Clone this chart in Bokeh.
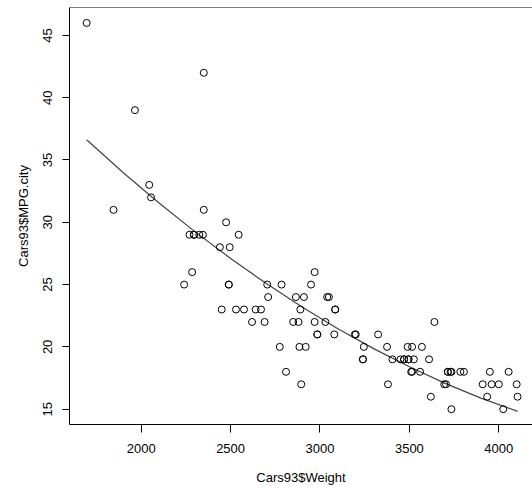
from bokeh.plotting import figure
from bokeh.models import FixedTicker, Span, Range1d
from bokeh.embed import file_html
from bokeh.resources import INLINE

# Cars93: Weight vs MPG.city
weight = [2705, 3560, 3375, 3405, 3640, 2880, 3470, 4105, 3495, 3620,
          3935, 2490, 2785, 3240, 3195, 3715, 4025, 3910, 3380, 3515,
          3085, 3570, 2270, 2670, 2970, 3705, 3080, 3805, 2295, 3490,
          1845, 2530, 2690, 2850, 2710, 3735, 3325, 3950, 1695, 2475,
          2865, 2350, 3040, 2345, 2620, 2285, 2885, 4000, 3510, 3515,
          3695, 4055, 2325, 2440, 2970, 3735, 2895, 2920, 3525, 2450,
          3610, 2295, 3730, 2545, 3050, 4100, 3200, 2910, 2890, 3715,
          3470, 2640, 2350, 2575, 3240, 3450, 3495, 2775, 2495, 2045,
          2490, 3085, 1965, 2055, 2950, 3030, 3785, 2240, 3960, 2985,
          2810, 2985, 3245]
mpg_city = [25, 18, 20, 19, 22, 22, 19, 16, 19, 16,
            16, 25, 25, 19, 21, 18, 15, 17, 17, 20,
            23, 20, 29, 23, 22, 17, 21, 18, 29, 20,
            31, 23, 22, 22, 24, 15, 21, 18, 46, 30,
            24, 42, 24, 29, 22, 26, 20, 17, 18, 18,
            17, 18, 29, 28, 26, 18, 17, 20, 19, 23,
            19, 29, 18, 29, 24, 17, 21, 24, 23, 18,
            19, 23, 31, 23, 19, 19, 19, 20, 28, 33,
            25, 23, 39, 32, 25, 22, 18, 25, 17, 21,
            18, 21, 20]

# fitted curve
curve_weight = [1695, 1900, 2100, 2300, 2500, 2700, 2900, 3100, 3300, 3500, 3700, 3900, 4105]
curve_mpg = [36.62, 33.98, 31.55, 29.25, 27.10, 25.08, 23.20, 21.46, 19.86, 18.40, 17.07, 15.89, 14.82]

x_ticks = [2000, 2500, 3000, 3500, 4000]
y_ticks = [15, 20, 25, 30, 35, 40, 45]
x_title = "Cars93$Weight"
y_title = "Cars93$MPG.city"

FONT = "Liberation Sans"
Y_END = 47.24

p = figure(width=532, height=488, output_backend="svg", toolbar_location=None,
           x_range=Range1d(1599, 4188.5), y_range=Range1d(13.77, Y_END),
           min_border_left=69, min_border_right=0, min_border_top=7, min_border_bottom=64)

p.outline_line_color = None
p.xgrid.visible = False
p.ygrid.visible = False
p.background_fill_color = "white"
p.border_fill_color = "white"

p.add_layout(Span(location=Y_END, dimension="width", line_color="black", line_width=1))

p.line(curve_weight, curve_mpg, line_color="#444444", line_width=1.2)
p.scatter(weight, mpg_city, marker="circle", size=7, fill_color=None,
          line_color="black", line_width=1)

for ax in (p.xaxis[0], p.yaxis[0]):
    ax.minor_tick_line_color = None
    ax.major_tick_in = 0
    ax.axis_line_color = "black"
    ax.major_tick_line_color = "black"
    ax.major_label_text_font = FONT
    ax.major_label_text_font_size = "13px"
    ax.major_label_text_color = "black"
    ax.axis_label_text_font = FONT
    ax.axis_label_text_font_size = "13px"
    ax.axis_label_text_font_style = "normal"
    ax.axis_label_text_color = "black"

p.xaxis.ticker = FixedTicker(ticks=x_ticks)
p.xaxis.major_tick_out = 8
p.xaxis.major_label_standoff = 11
p.xaxis.axis_label = x_title
p.xaxis.axis_label_standoff = 14

p.yaxis.ticker = FixedTicker(ticks=y_ticks)
p.yaxis.major_tick_out = 7
p.yaxis.major_label_standoff = 10
p.yaxis.major_label_orientation = "vertical"
p.yaxis.axis_label = y_title
p.yaxis.axis_label_standoff = 10

open("out.html", "w").write(file_html(p, INLINE))
